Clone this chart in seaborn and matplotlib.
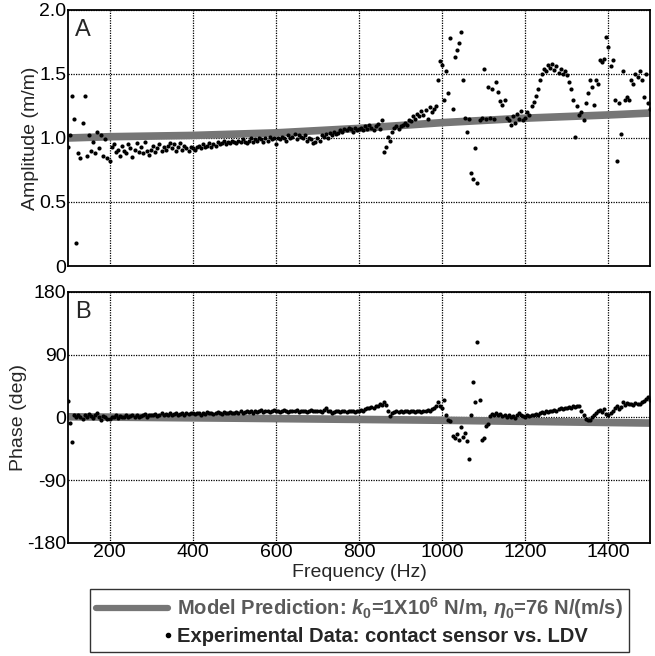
import matplotlib
matplotlib.use("Agg")
import matplotlib.pyplot as plt
import numpy as np
import pandas as pd
import seaborn as sns
from matplotlib.legend_handler import HandlerLine2D
from matplotlib.lines import Line2D

# measurement grid (Hz)
freq = np.arange(100, 1505, 5)

amplitude = [
    0.93, 1.02, 1.33, 1.15, 0.18, 0.88, 0.84, 1.12, 1.33, 0.86, 1.02, 0.90, 0.97, 0.88, 1.05, 0.92, 1.02, 0.86, 0.99, 0.84,
    0.82, 0.93, 0.95, 0.89, 0.91, 0.86, 0.94, 0.90, 0.88, 0.95, 0.92, 0.85, 0.91, 0.96, 0.89, 0.93, 0.88, 0.97, 0.90, 0.87,
    0.91, 0.94, 0.89, 0.92, 0.95, 0.90, 0.93, 0.91, 0.94, 0.96, 0.92, 0.95, 0.90, 0.93, 0.96, 0.91, 0.94, 0.92, 0.90, 0.93,
    0.92, 0.91, 0.93, 0.94, 0.92, 0.95, 0.93, 0.94, 0.96, 0.93, 0.95, 0.94, 0.97, 0.95, 0.96, 0.98, 0.95, 0.97, 0.96, 0.98,
    0.97, 0.96, 0.98, 0.97, 0.99, 0.97, 0.96, 0.98, 1.00, 0.97, 0.99, 0.98, 1.00, 0.99, 0.97, 1.00, 0.98, 1.01, 0.99, 1.00,
    0.95, 1.00, 0.99, 1.01, 1.00, 0.98, 1.02, 1.00, 1.01, 1.03, 0.99, 1.02, 1.01, 1.00, 1.02, 0.98, 1.00, 0.99, 0.96, 0.97,
    1.00, 0.98, 1.02, 1.01, 1.03, 1.00, 1.04, 1.02, 1.05, 1.03, 1.04, 1.06, 1.05, 1.07, 1.06, 1.08, 1.07, 1.05, 1.08, 1.06,
    1.07, 1.08, 1.06, 1.09, 1.07, 1.10, 1.08, 1.06, 1.09, 1.11, 1.07, 1.14, 0.89, 0.93, 1.01, 0.98, 1.05, 1.08, 1.09, 1.07,
    1.09, 1.10, 1.12, 1.10, 1.14, 1.13, 1.17, 1.15, 1.19, 1.17, 1.21, 1.18, 1.22, 1.15, 1.24, 1.20, 1.23, 1.25, 1.45, 1.60,
    1.57, 1.30, 1.52, 1.35, 1.78, 1.23, 1.63, 1.69, 1.74, 1.83, 1.45, 1.16, 1.05, 1.15, 0.73, 0.68, 0.92, 0.65, 1.14, 1.16,
    1.54, 1.15, 1.40, 1.16, 1.38, 1.15, 1.44, 1.36, 1.29, 1.26, 1.30, 1.16, 1.14, 1.10, 1.17, 1.12, 1.19, 1.15, 1.21, 1.14,
    1.16, 1.20, 1.18, 1.25, 1.28, 1.33, 1.38, 1.45, 1.50, 1.54, 1.52, 1.57, 1.55, 1.58, 1.53, 1.56, 1.51, 1.54, 1.50, 1.52,
    1.49, 1.44, 1.38, 1.30, 1.01, 1.25, 1.18, 1.20, 1.14, 1.27, 1.35, 1.45, 1.40, 1.26, 1.45, 1.42, 1.61, 1.59, 1.62, 1.79,
    1.71, 1.56, 1.61, 1.30, 0.82, 1.27, 1.03, 1.52, 1.30, 1.32, 1.30, 1.45, 1.42, 1.50, 1.48, 1.52, 1.45, 1.32, 1.50, 1.27,
    1.23,
]

phase = [
    24, -8, -35, 3, 0, 4, 1, -2, 3, 0, 5, 2, -1, 3, 6, 1, -3, 2, 0, -2,
    -2, 1, 0, 3, -1, 2, 0, 1, 3, 0, 2, 4, 1, 3, 0, 2, 4, 5, 1, 3,
    4, 3, 5, 2, 4, 6, 3, 5, 4, 6, 3, 5, 6, 4, 5, 7, 4, 6, 5, 7,
    6, 5, 7, 6, 4, 7, 5, 8, 6, 7, 5, 6, 8, 7, 5, 8, 6, 7, 8, 6,
    7, 8, 6, 9, 7, 8, 10, 8, 9, 7, 10, 8, 9, 11, 8, 10, 9, 8, 10, 11,
    9, 10, 8, 9, 11, 10, 8, 9, 10, 9, 11, 8, 10, 9, 10, 8, 9, 11, 10, 9,
    10, 9, 8, 11, 13, 10, 9, 7, 8, 10, 9, 8, 9, 10, 8, 9, 10, 9, 8, 10,
    9, 11, 10, 12, 14, 13, 15, 14, 17, 16, 19, 18, 22, 18, 10, 2, 6, 8, 9, 8,
    9, 8, 10, 9, 8, 10, 9, 8, 10, 9, 8, 9, 10, 11, 9, 12, 14, 17, 22, 16,
    14, 25, 4, -4, -5, -26, -30, -24, -33, -13, -28, -22, -34, -60, 3, 51, 22, 108, 25, -32,
    -30, -12, -9, 2, 5, 4, 6, 3, 5, 2, 4, 1, 3, 0, 2, -1, 4, 7, 3, 2,
    1, 3, 2, 4, 3, 5, 4, 6, 8, 7, 9, 8, 10, 9, 11, 10, 12, 13, 12, 14,
    13, 15, 14, 16, 15, 17, 16, 10, 4, -2, -4, -3, 1, 3, 6, 9, 11, 8, 12, 5,
    3, 7, 10, 14, 17, 12, 15, 22, 18, 21, 19, 20, 18, 21, 19, 20, 22, 24, 27, 29,
    25,
]

model_freq = [100, 200, 400, 600, 800, 1000, 1200, 1400, 1500]
model_amp = [1.00, 1.01, 1.02, 1.04, 1.075, 1.12, 1.155, 1.18, 1.195]
model_phase_freq = [100, 500, 1000, 1500]
model_phase = [1, -1, -4, -8]

assert len(amplitude) == len(freq) and len(phase) == len(freq)

data = pd.DataFrame({"freq": freq, "amplitude": amplitude, "phase": phase})
model_a = pd.DataFrame({"freq": model_freq, "value": model_amp})
model_p = pd.DataFrame({"freq": model_phase_freq, "value": model_phase})


class RightDotHandler(HandlerLine2D):
    # draw the marker only at the right end of the handle area
    def create_artists(self, legend, orig_handle, xdescent, ydescent, width, height, fontsize, trans):
        artists = super().create_artists(legend, orig_handle, xdescent, ydescent, width, height, fontsize, trans)
        for art in artists:
            if len(art.get_xdata()) > 1:
                art.set_markevery([len(art.get_xdata()) - 1])
        return artists


sns.set_style("white")
plt.rcParams["font.family"] = ["Liberation Sans", "DejaVu Sans"]
plt.rcParams["mathtext.fontset"] = "custom"
plt.rcParams["mathtext.rm"] = "Liberation Sans:bold"
plt.rcParams["mathtext.it"] = "Liberation Sans:italic:bold"
plt.rcParams["mathtext.bf"] = "Liberation Sans:bold"

MODEL_COLOR = "#767676"
FS = 14
fig = plt.figure(figsize=(6.55, 6.56), dpi=100)
ax_a = fig.add_axes([0.1038, 0.5945, 0.8886, 0.3903])
ax_b = fig.add_axes([0.1038, 0.1723, 0.8886, 0.3826])

panels = [
    (ax_a, "amplitude", model_a, (0, 2), [0, 0.5, 1.0, 1.5, 2.0], ["0", "0.5", "1.0", "1.5", "2.0"], "Amplitude (m/m)", "A"),
    (ax_b, "phase", model_p, (-180, 180), [-180, -90, 0, 90, 180], ["-180", "-90", "0", "90", "180"], "Phase (deg)", "B"),
]

for ax, col, model, ylim, yticks, ylabels, ylab, tag in panels:
    sns.lineplot(data=model, x="freq", y="value", color=MODEL_COLOR, linewidth=5.5, ax=ax, zorder=2)
    sns.scatterplot(data=data, x="freq", y=col, color="black", s=9, linewidth=0, ax=ax, zorder=3)
    ax.set_xlim(100, 1500)
    ax.set_ylim(*ylim)
    ax.set_xticks([200, 400, 600, 800, 1000, 1200, 1400])
    ax.set_yticks(yticks)
    ax.set_yticklabels(ylabels)
    ax.grid(True, color="black", linestyle=(0, (1, 1)), linewidth=0.9)
    ax.tick_params(direction="in", length=4, labelsize=FS, pad=1, colors="black")
    ax.set_ylabel(ylab, fontsize=FS, labelpad=0)
    ax.set_xlabel("")
    for spine in ax.spines.values():
        spine.set_color("black")
        spine.set_linewidth(1.3)
    ax.text(0.012, 0.965, tag, transform=ax.transAxes, fontsize=17, va="top", ha="left")

ax_a.set_xticklabels([])
ax_b.set_xlabel("Frequency (Hz)", fontsize=FS, labelpad=2)

model_handle = Line2D([], [], color=MODEL_COLOR, linewidth=4.5)
data_handle = Line2D([], [], color="black", marker="o", markersize=3, linestyle="none")
labels = [
    r"Model Prediction: $\mathit{k}_0$=1X10$^6$ N/m, $\eta_0$=76 N/(m/s)",
    "Experimental Data: contact sensor vs. LDV",
]
leg = fig.legend([model_handle, data_handle], labels, loc="lower center", bbox_to_anchor=(0.549, 0.0),
                 frameon=True, fancybox=False, edgecolor="black",
                 prop={"weight": "bold", "size": 14.5}, handlelength=3.6, handletextpad=0.45,
                 borderpad=0.3, labelspacing=0.3, borderaxespad=0.2,
                 handler_map={data_handle: RightDotHandler(numpoints=2, marker_pad=0.0)})
leg.get_frame().set_linewidth(1.0)
leg.get_texts()[0].set_color("#5a5a5a")

fig.savefig("out.png", dpi=100)
